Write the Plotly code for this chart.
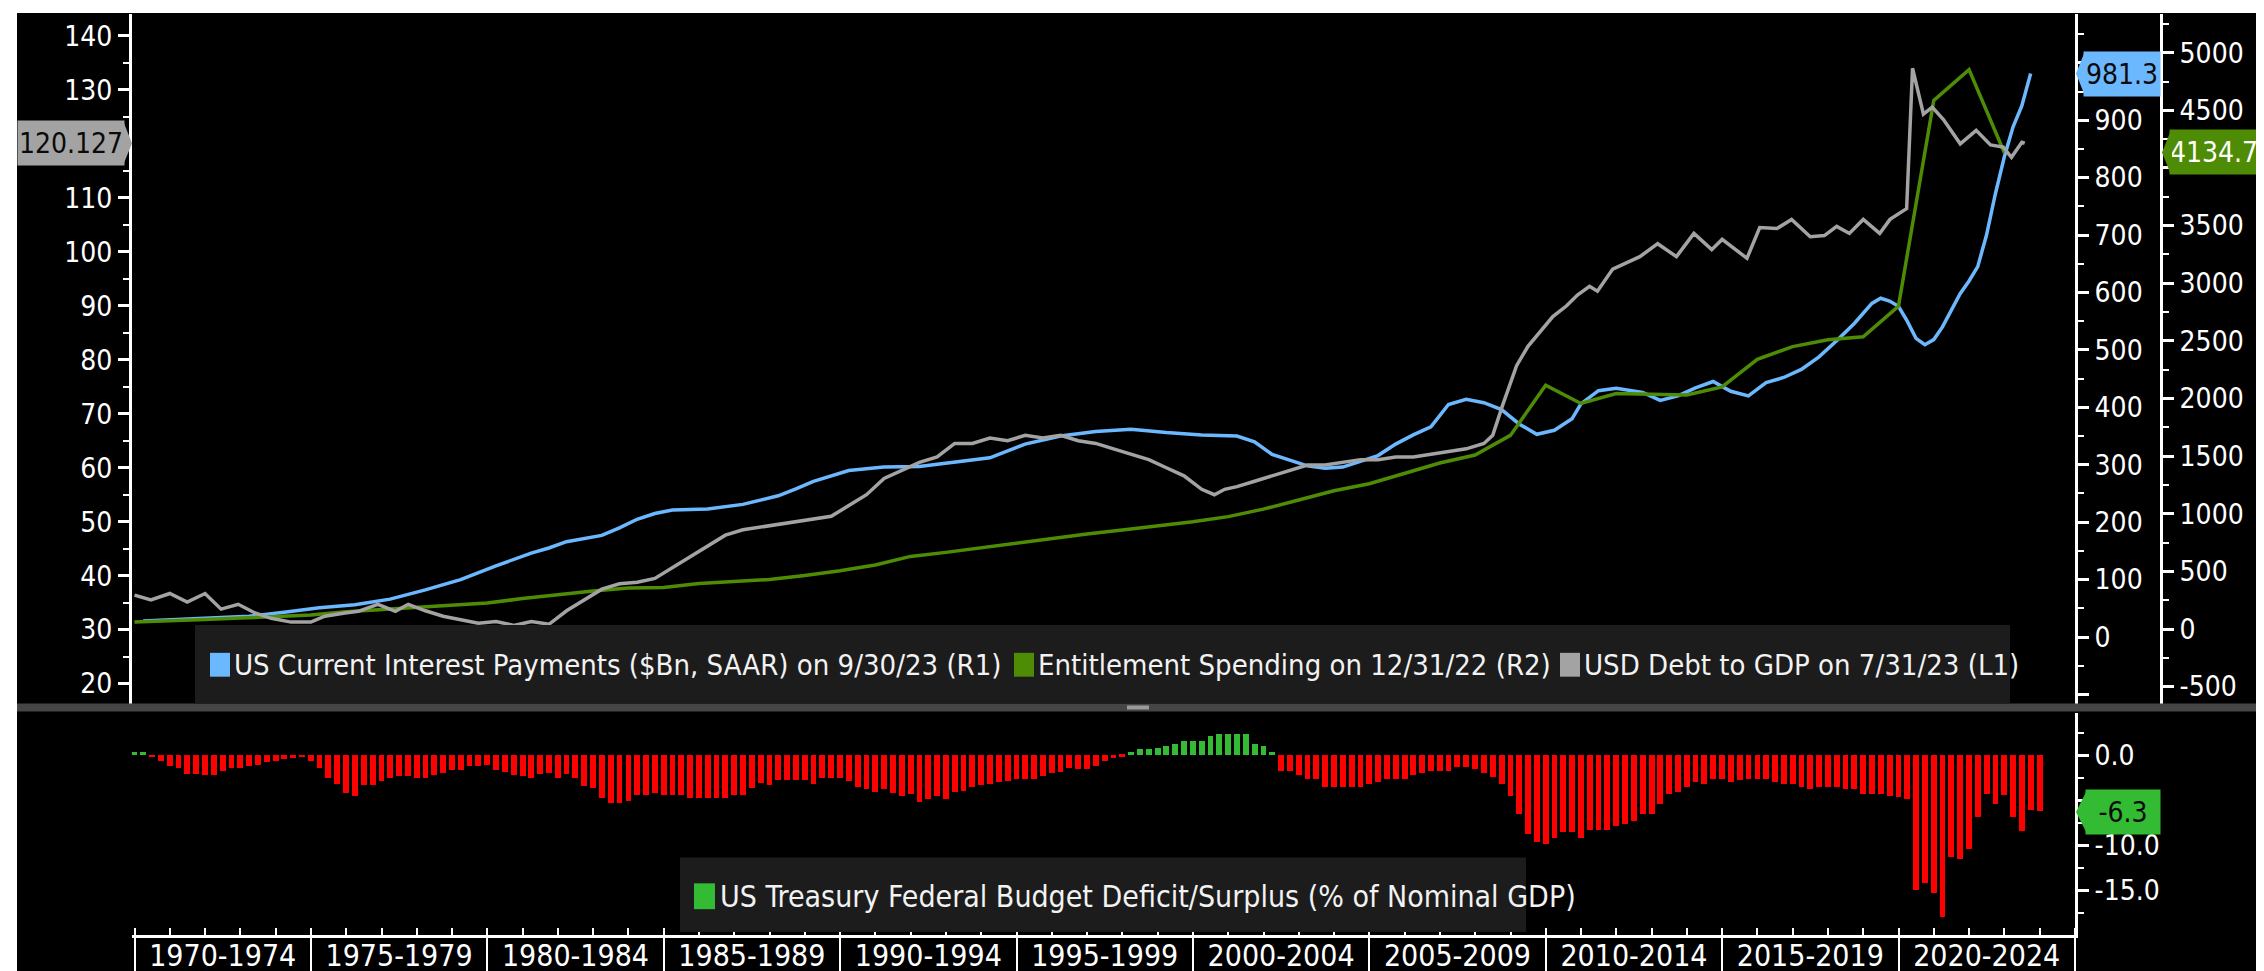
import pandas as pd
import plotly.graph_objects as go

W, H = 2264, 971
FONT = "Liberation Sans Narrow, DejaVu Sans Condensed, Arial Narrow, sans-serif"

# ---------------- data ----------------
interest_dates = [
    "1970-03-31", "1971-03-31", "1972-03-31", "1973-03-31", "1974-03-31", "1975-03-31",
    "1976-03-31", "1977-03-31", "1978-03-31", "1979-03-31", "1980-03-31", "1981-03-31",
    "1981-09-30", "1982-03-31", "1983-03-31", "1983-09-30", "1984-03-31", "1984-09-30",
    "1985-03-31", "1986-03-31", "1987-03-31", "1988-03-31", "1988-09-30", "1989-03-31",
    "1990-03-31", "1991-03-31", "1992-03-31", "1993-03-31", "1994-03-31", "1995-03-31",
    "1996-03-31", "1997-03-31", "1998-03-31", "1999-03-31", "2000-03-31", "2001-03-31",
    "2001-09-30", "2002-03-31", "2003-03-31", "2003-09-30", "2004-03-31", "2005-03-31",
    "2005-09-30", "2006-03-31", "2006-09-30", "2007-03-31", "2007-09-30", "2008-03-31",
    "2008-09-30", "2009-03-31", "2009-09-30", "2010-03-31", "2010-09-30", "2010-12-31",
    "2011-06-30", "2011-12-31", "2012-09-30", "2013-03-31", "2013-09-30", "2014-03-31",
    "2014-09-30", "2015-03-31", "2015-09-30", "2016-03-31", "2016-09-30", "2017-03-31",
    "2017-09-30", "2018-03-31", "2018-09-30", "2019-03-31", "2019-06-30", "2019-09-30",
    "2019-12-31", "2020-03-31", "2020-06-30", "2020-09-30", "2020-12-31", "2021-03-31",
    "2021-06-30", "2021-09-30", "2021-12-31", "2022-03-31", "2022-06-30", "2022-09-30",
    "2022-12-31", "2023-03-31", "2023-06-30", "2023-09-30",
]
interest_bn = [
    28, 31, 33, 36, 43, 51, 56, 66, 82, 100, 124, 146,
    155, 166, 177, 190, 205, 215, 221, 223, 231, 246, 258, 271,
    290, 296, 297, 305, 312, 336, 350, 358, 362, 356, 352, 350,
    340, 318, 298, 294, 296, 316, 336, 352, 366, 405, 414, 408,
    396, 371, 353, 360, 380, 406, 429, 433, 426, 412, 420, 434,
    445, 428, 420, 443, 452, 466, 488, 516, 546, 581, 590, 585,
    576, 550, 520, 509, 518, 540, 570, 598, 620, 645, 700, 772,
    836, 888, 925, 981.3,
]

entitlement_years = list(range(1969, 2023))
entitlement_bn = [
    62, 70, 82, 95, 108, 122, 150, 170, 188, 205, 225, 265, 300, 330,
    355, 360, 395, 415, 430, 465, 505, 555, 630, 665, 705, 745, 790,
    825, 860, 895, 930, 975, 1040, 1120, 1200, 1260, 1350, 1440, 1510,
    1680, 2115, 1957, 2043, 2035, 2030, 2100, 2340, 2450, 2510, 2535,
    2800, 4586, 4853, 4134.7,
]

debt_dates = [
    "1970-01-01", "1970-06-20", "1971-01-01", "1971-07-01", "1972-01-01", "1972-06-15",
    "1972-12-10", "1973-06-01", "1973-11-15", "1974-06-10", "1975-01-01", "1975-05-25",
    "1975-12-20", "1976-05-05", "1976-11-25", "1977-05-25", "1977-10-05", "1978-04-01",
    "1978-10-01", "1979-04-01", "1979-10-01", "1980-04-01", "1980-10-01", "1981-04-01",
    "1981-10-01", "1982-04-01", "1982-10-01", "1983-04-01", "1983-10-01", "1984-04-01",
    "1984-10-01", "1985-04-01", "1985-10-01", "1986-04-01", "1986-10-01", "1987-04-01",
    "1987-10-01", "1988-04-01", "1988-10-01", "1989-04-01", "1989-10-01", "1990-04-01",
    "1990-10-01", "1991-04-01", "1991-10-01", "1992-04-01", "1992-10-01", "1993-04-01",
    "1993-10-01", "1994-04-01", "1994-10-01", "1995-04-01", "1995-10-01", "1996-04-01",
    "1996-10-01", "1997-04-01", "1997-10-01", "1998-04-01", "1998-10-01", "1999-04-01",
    "1999-10-01", "2000-04-01", "2000-08-10", "2000-11-25", "2001-04-01", "2001-10-01",
    "2002-04-01", "2002-10-01", "2003-04-01", "2003-10-01", "2004-04-01", "2004-10-01",
    "2005-04-01", "2005-10-01", "2006-04-01", "2006-10-01", "2007-04-01", "2007-10-01",
    "2008-04-01", "2008-07-01", "2008-10-10", "2009-03-05", "2009-07-01", "2009-10-30",
    "2010-03-15", "2010-08-05", "2010-11-25", "2011-03-30", "2011-06-20", "2011-11-25",
    "2012-04-20", "2012-09-01", "2013-03-05", "2013-09-15", "2014-03-15", "2014-09-15",
    "2015-01-01", "2015-09-15", "2016-01-25", "2016-07-20", "2016-12-20", "2017-07-01",
    "2017-11-25", "2018-04-01", "2018-08-10", "2019-01-01", "2019-06-20", "2019-10-05",
    "2020-03-25", "2020-05-25", "2020-09-15", "2020-12-15", "2021-04-10", "2021-10-01",
    "2022-03-15", "2022-08-10", "2022-12-20", "2023-03-15", "2023-07-01", "2023-07-31",
]
debt_gdp = [
    36.4, 35.5, 36.7, 35.1, 36.7, 33.8,
    34.7, 33.1, 32.1, 31.4, 31.4, 32.5,
    33.1, 33.4, 34.7, 33.4, 34.7, 33.5,
    32.5, 31.8, 31.2, 31.5, 30.8, 31.5,
    31.0, 33.5, 35.5, 37.5, 38.5, 38.8,
    39.5, 41.5, 43.5, 45.5, 47.5, 48.5,
    49.0, 49.5, 50.0, 50.5, 51.0, 53.0,
    55.0, 58.0, 59.5, 61.0, 62.0, 64.5,
    64.5, 65.5, 65.0, 66.0, 65.5, 66.0,
    65.0, 64.5, 63.5, 62.5, 61.5, 60.0,
    58.5, 56.0, 55.0, 56.0, 56.5, 57.5,
    58.5, 59.5, 60.5, 60.5, 61.0, 61.5,
    61.5, 62.0, 62.0, 62.5, 63.0, 63.5,
    64.5, 66.0, 71.5, 78.9, 82.5, 85.0,
    88.0, 90.0, 92.0, 93.6, 92.7, 96.8,
    98.0, 99.1, 101.5, 99.1, 103.4, 100.4,
    102.3, 98.8, 104.5, 104.3, 106.0, 102.8,
    103.0, 104.7, 103.4, 106.0, 103.4, 106.0,
    108.0, 134.0, 125.5, 126.8, 124.5, 120.0,
    122.5, 119.8, 119.4, 117.5, 120.3, 120.127,
]

deficit_start = "1970-01-01"
deficit_pct = [
    0.3, 0.3, -0.3, -0.65,       # 1970
    -1.3, -1.5, -2.1, -2.1,
    -2.2, -2.3, -1.8, -1.45,
    -1.45, -1.3, -1.1, -0.8,
    -0.65, -0.5, -0.4, -0.3,
    -0.65, -1.45, -2.6, -3.3,    # 1975
    -4.3, -4.6, -3.4, -3.4,
    -2.9, -2.6, -2.35, -2.35,
    -2.6, -2.6, -2.25, -2.0,
    -1.75, -1.75, -1.3, -1.3,
    -1.15, -1.75, -1.9, -2.25,   # 1980
    -2.35, -2.6, -2.1, -2.0,
    -2.6, -2.1, -2.6, -3.5,
    -3.7, -4.8, -5.4, -5.4,
    -5.1, -4.5, -4.5, -4.3,
    -4.5, -4.5, -4.5, -4.8,      # 1985
    -4.8, -4.8, -4.8, -4.8,
    -4.5, -4.5, -3.7, -3.1,
    -3.4, -2.8, -2.8, -2.8,
    -2.8, -3.2, -2.6, -2.6,
    -2.6, -2.9, -3.55, -3.8,     # 1990
    -4.1, -3.8, -4.2, -4.6,
    -4.4, -5.2, -4.9, -4.6,
    -4.9, -4.1, -4.0, -3.55,
    -3.4, -3.3, -3.0, -2.9,
    -2.7, -2.7, -2.7, -2.35,     # 1995
    -2.0, -1.9, -1.5, -1.55,
    -1.55, -1.2, -0.75, -0.4,
    -0.2, 0.3, 0.6, 0.6,
    0.7, 0.95, 1.15, 1.5,
    1.5, 1.5, 2.05, 2.3,         # 2000
    2.3, 2.3, 2.3, 1.15,
    0.95, 0.3, -1.85, -1.85,
    -2.2, -2.7, -2.7, -3.55,
    -3.55, -3.55, -3.55, -3.55,
    -3.3, -3.0, -2.7, -2.7,      # 2005
    -2.7, -2.2, -2.0, -1.85,
    -1.85, -1.85, -1.4, -1.4,
    -1.55, -2.0, -2.45, -3.3,
    -4.6, -6.6, -8.8, -9.7,
    -9.95, -9.2, -8.6, -8.6,     # 2010
    -9.2, -8.3, -8.4, -8.4,
    -7.9, -7.7, -7.4, -6.6,
    -6.6, -5.5, -4.4, -4.1,
    -3.55, -3.0, -3.3, -2.7,
    -2.7, -3.0, -2.85, -2.7,     # 2015
    -2.7, -2.7, -3.0, -3.3,
    -3.3, -3.55, -3.8, -3.55,
    -3.55, -3.55, -3.8, -3.8,
    -4.4, -4.4, -4.4, -4.6,
    -4.7, -4.9, -15.0, -14.2,    # 2020
    -15.3, -18.0, -11.3, -11.6,
    -10.5, -6.9, -4.4, -5.5,
    -4.5, -6.9, -8.5, -6.1,
    -6.3,
]

period_starts = list(range(1970, 2021, 5))
period_labels = [f"{y}-{y + 4}" for y in period_starts]

interest_name = "US Current Interest Payments ($Bn, SAAR) on 9/30/23 (R1)"
entitle_name = "Entitlement Spending on 12/31/22 (R2)"
debt_name = "USD Debt to GDP on 7/31/23 (L1)"
deficit_name = "US Treasury Federal Budget Deficit/Surplus (% of Nominal GDP)"

BLUE, GREEN, GREY = "#6cb8ff", "#4f8c05", "#a3a3a3"
RED, BARGREEN = "#ff0000", "#33bb33"

# ---------------- geometry (canvas pixels -> paper) ----------------
L, R, T, B = 124, 2153, 6, 933
X_END = 2067


def px(x):
    return (x - L) / (R - L)


def py(y):
    return (B - y) / (B - T)


D = px(X_END)
upper_dom = [py(703), 1]
lower_dom = [0, py(710)]

deficit_dates = pd.date_range(deficit_start, periods=len(deficit_pct), freq="QS")
bar_colors = [BARGREEN if v >= 0 else RED for v in deficit_pct]

fig = go.Figure()
fig.add_scatter(x=interest_dates, y=interest_bn, mode="lines", name=interest_name,
                line=dict(color=BLUE, width=3.5), xaxis="x", yaxis="y")
fig.add_scatter(x=[f"{y}-12-31" for y in entitlement_years], y=entitlement_bn, mode="lines",
                name=entitle_name, line=dict(color=GREEN, width=3.5), xaxis="x", yaxis="y2")
fig.add_scatter(x=debt_dates, y=debt_gdp, mode="lines", name=debt_name,
                line=dict(color=GREY, width=3.5), xaxis="x", yaxis="y3")
fig.add_bar(x=deficit_dates, y=deficit_pct, marker=dict(color=bar_colors, line_width=0),
            width=60 * 86400000, name=deficit_name, xaxis="x2", yaxis="y4")

xr = ["1969-12-06", "2025-01-01"]
tickfont = dict(family=FONT, size=28, color="white")
ax_common = dict(showgrid=False, zeroline=False, showline=True, linecolor="white", linewidth=3,
                 ticks="outside", tickcolor="white", tickwidth=3, ticklen=11,
                 tickfont=tickfont, tickmode="array")


def ticks(start, stop, step, hidden, fmt="{:g}"):
    # tick values with labels blanked where a value tag covers them
    vals = [start + i * step for i in range(int(round((stop - start) / step)) + 1)]
    return dict(tickvals=vals, ticktext=["" if v in hidden else fmt.format(v) for v in vals])


def minor(step):
    return dict(tickmode="linear", tick0=0, dtick=step, ticks="outside", ticklen=6,
                tickwidth=2, tickcolor="white")


fig.update_layout(
    width=W, height=H,
    margin=dict(l=L, r=W - R, t=T, b=H - B),
    paper_bgcolor="white", plot_bgcolor="black",
    showlegend=False, bargap=0,
    font=dict(family=FONT, color="white"),
    xaxis=dict(domain=[0, D], range=xr, anchor="y4", showgrid=False, zeroline=False,
               showline=False, tickmode="array",
               tickvals=[f"{y + 2}-07-02" for y in period_starts], ticktext=period_labels,
               ticks="", tickfont=dict(family=FONT, size=30, color="white")),
    xaxis2=dict(domain=[0, D], range=xr, anchor="y4", showgrid=False, zeroline=False,
                showline=True, linecolor="white", linewidth=3, tickmode="array",
                tickvals=[f"{y}-01-01" for y in range(1970, 2026, 5)], showticklabels=False,
                ticks="outside", ticklen=36, tickwidth=2, tickcolor="white",
                minor=dict(tickmode="linear", tick0="1970-01-01", dtick="M12", ticks="inside",
                           ticklen=7, tickwidth=2, tickcolor="white")),
    yaxis=dict(domain=upper_dom, range=[-121, 1085], side="right", anchor="x",
               minor=minor(50), **ticks(-100, 1000, 100, {-100, 1000}), **ax_common),
    yaxis2=dict(domain=upper_dom, range=[-672, 5336], side="right", overlaying="y",
                anchor="free", position=1.0, minor=minor(250),
                **ticks(-500, 5000, 500, {4000}), **ax_common),
    yaxis3=dict(domain=upper_dom, range=[15.77, 144.05], side="left", overlaying="y",
                anchor="x", minor=minor(5), **ticks(20, 140, 10, {120}), **ax_common),
    yaxis4=dict(domain=lower_dom, range=[-19.96, 4.63], side="right", anchor="x2",
                minor=minor(2.5), **ticks(-15, 0, 5, {-5}, "{:.1f}"), **ax_common),
)

shapes = [
    # black canvas and panel splitter
    dict(type="rect", xref="paper", yref="paper", x0=px(9), x1=px(2250), y0=py(5), y1=py(H),
         fillcolor="black", line_width=0, layer="below"),
    dict(type="rect", xref="paper", yref="paper", x0=px(9), x1=px(2250), y0=py(708), y1=py(700),
         fillcolor="#454545", line_width=0, layer="above"),
    dict(type="rect", xref="paper", yref="paper", x0=px(1119), x1=px(1141), y0=py(706), y1=py(702),
         fillcolor="#9a9a9a", line_width=0, layer="above"),
    # legend boxes
    dict(type="rect", xref="paper", yref="paper", x0=px(187), x1=px(2002), y0=py(700), y1=py(621),
         fillcolor="#1c1c1c", line_width=0, layer="above"),
    dict(type="rect", xref="paper", yref="paper", x0=px(672), x1=px(1518), y0=py(930), y1=py(855),
         fillcolor="#1c1c1c", line_width=0, layer="above"),
]
annotations = []

upper_items = [(202, BLUE, interest_name), (1006, GREEN, entitle_name), (1552, GREY, debt_name)]
for x0, col, name in upper_items:
    shapes.append(dict(type="rect", xref="paper", yref="paper", x0=px(x0), x1=px(x0 + 20),
                       y0=py(673), y1=py(649), fillcolor=col, line_width=0, layer="above"))
    annotations.append(dict(xref="paper", yref="paper", x=px(x0 + 22), y=py(661), text=name,
                            showarrow=False, xanchor="left", yanchor="middle",
                            font=dict(family=FONT, size=29, color="#f2f2f2")))
shapes.append(dict(type="rect", xref="paper", yref="paper", x0=px(686), x1=px(707),
                   y0=py(907), y1=py(881), fillcolor=BARGREEN, line_width=0, layer="above"))
annotations.append(dict(xref="paper", yref="paper", x=px(710), y=py(894), text=deficit_name,
                        showarrow=False, xanchor="left", yanchor="middle",
                        font=dict(family=FONT, size=30, color="#f2f2f2")))


def tag(value, yref, x0, x1, point_x, half, bg, fg, text):
    # label box + pointer triangle at the axis
    annotations.append(dict(xref="paper", yref=yref, x=px((x0 + x1) / 2), y=value, text=text,
                            showarrow=False, xanchor="center", yanchor="middle",
                            bgcolor=bg, width=x1 - x0 - 4, height=40, borderpad=2,
                            font=dict(family=FONT, size=28, color=fg)))
    bx = x0 if point_x < x0 else x1
    shapes.append(dict(type="path", xref="paper", yref=yref,
                       path=f"M {px(bx)} {value + half} L {px(point_x)} {value} "
                            f"L {px(bx)} {value - half} Z",
                       fillcolor=bg, line_width=0, layer="above"))


tag(interest_bn[-1], "y", 2076, 2152, 2068, 20 / 0.5778, BLUE, "#0a0a0a", f"{interest_bn[-1]:.1f}")
tag(entitlement_bn[-1], "y2", 2162, 2250, 2154, 20 / 0.116, GREEN, "white",
    f"{entitlement_bn[-1]:.1f}")
tag(debt_gdp[-1], "y3", 10, 116, 124, 20 / 5.433, GREY, "#0a0a0a", f"{debt_gdp[-1]:.3f}")
tag(deficit_pct[-1], "y4", 2078, 2152, 2068, 20 / 9.067, BARGREEN, "#0a0a0a",
    f"{deficit_pct[-1]:.1f}")

fig.update_layout(shapes=shapes, annotations=annotations)
fig.write_html("out.html")
